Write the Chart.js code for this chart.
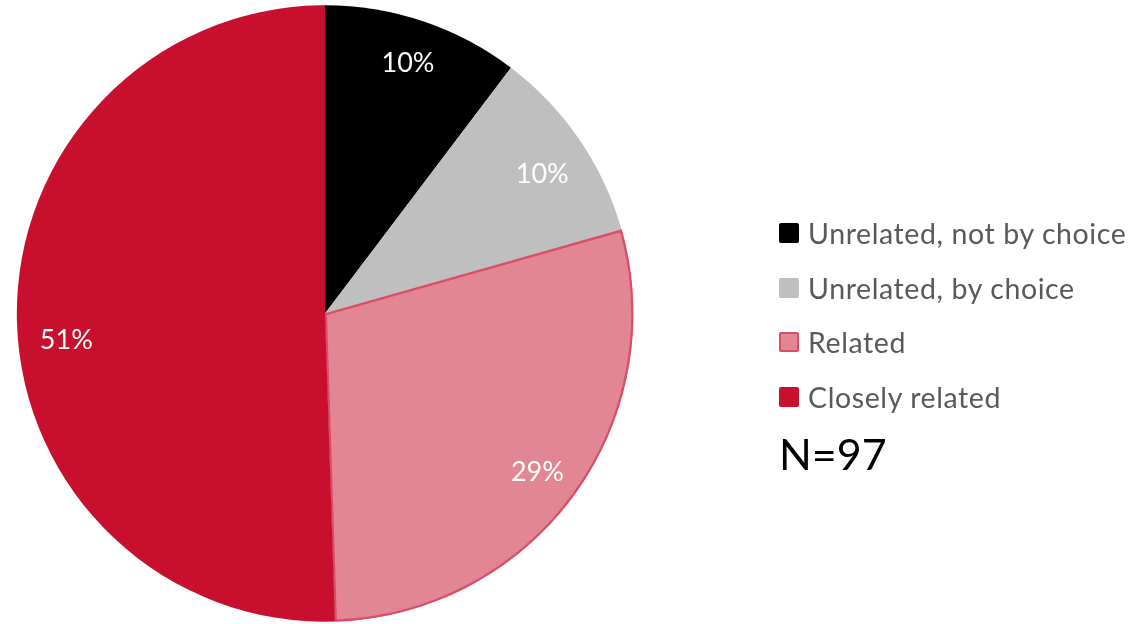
<!DOCTYPE html>
<html>
<head>
<meta charset="utf-8">
<script src="https://cdn.jsdelivr.net/npm/chart.js@4"></script>
<style>
  html, body { margin: 0; padding: 0; background: #fff; }
  #wrap { position: relative; width: 1132px; height: 624px; }
  #legend { position: absolute; left: 779px; top: 206px; font-family: Lato, sans-serif; }
  .item { display: flex; align-items: center; height: 54.5px; font-size: 28.5px; letter-spacing: 0.6px; color: #595959; }
  .box { width: 20px; height: 20px; margin-right: 9px; box-sizing: border-box; border-radius: 2px; }
  #n { font-size: 43px; color: #000; margin-top: 4px; }
</style>
</head>
<body>
<div id="wrap">
  <canvas id="pie" width="1132" height="624"></canvas>
  <div id="legend"></div>
</div>
<script>
// counts per answer, N=97
const categories = ['Unrelated, not by choice', 'Unrelated, by choice', 'Related', 'Closely related'];
const counts = [10, 10, 28, 49];
const fillColors = ['#000000', '#bfbfbf', '#e38694', '#c8102e'];
const edgeColors = ['#000000', '#bfbfbf', '#d94f69', '#c8102e'];
const edgeWidths = [0, 0, 2, 0];
const total = counts.reduce((a, b) => a + b, 0);

// small nudges of the percent labels, like the original's best-fit placement
const labelNudge = [[0, -3], [2, 8], [2, 5], [2, 23]];

// percent labels drawn inside each slice
const sliceLabels = {
  id: 'sliceLabels',
  afterDatasetsDraw(chart) {
    const ctx = chart.ctx;
    const meta = chart.getDatasetMeta(0);
    ctx.save();
    ctx.fillStyle = '#ffffff';
    ctx.font = '27px Lato, sans-serif';
    ctx.textAlign = 'center';
    ctx.textBaseline = 'middle';
    meta.data.forEach(function(arc, i) {
      const p = arc.getProps(['x', 'y', 'startAngle', 'endAngle', 'outerRadius'], true);
      const mid = (p.startAngle + p.endAngle) / 2;
      const r = p.outerRadius * 0.845;
      const pct = Math.round(counts[i] / total * 100) + '%';
      ctx.fillText(pct, p.x + Math.cos(mid) * r + labelNudge[i][0], p.y + Math.sin(mid) * r + labelNudge[i][1]);
    });
    ctx.restore();
  }
};

new Chart(document.getElementById('pie'), {
  type: 'pie',
  data: {
    labels: categories,
    datasets: [{
      data: counts,
      backgroundColor: fillColors,
      borderColor: edgeColors,
      borderWidth: edgeWidths,
      borderAlign: 'inner'
    }]
  },
  options: {
    responsive: false,
    animation: false,
    layout: { padding: { top: 5, bottom: 2, left: 15, right: 497 } },
    plugins: {
      legend: { display: false },
      tooltip: { enabled: false }
    }
  },
  plugins: [sliceLabels]
});

// legend built from the same arrays
const legend = document.getElementById('legend');
categories.forEach(function(name, i) {
  const row = document.createElement('div');
  row.className = 'item';
  const box = document.createElement('span');
  box.className = 'box';
  box.style.background = fillColors[i];
  if (edgeWidths[i]) box.style.border = edgeWidths[i] + 'px solid ' + edgeColors[i];
  row.appendChild(box);
  row.appendChild(document.createTextNode(name));
  legend.appendChild(row);
});
const n = document.createElement('div');
n.id = 'n';
n.textContent = 'N=' + total;
legend.appendChild(n);
</script>
</body>
</html>
